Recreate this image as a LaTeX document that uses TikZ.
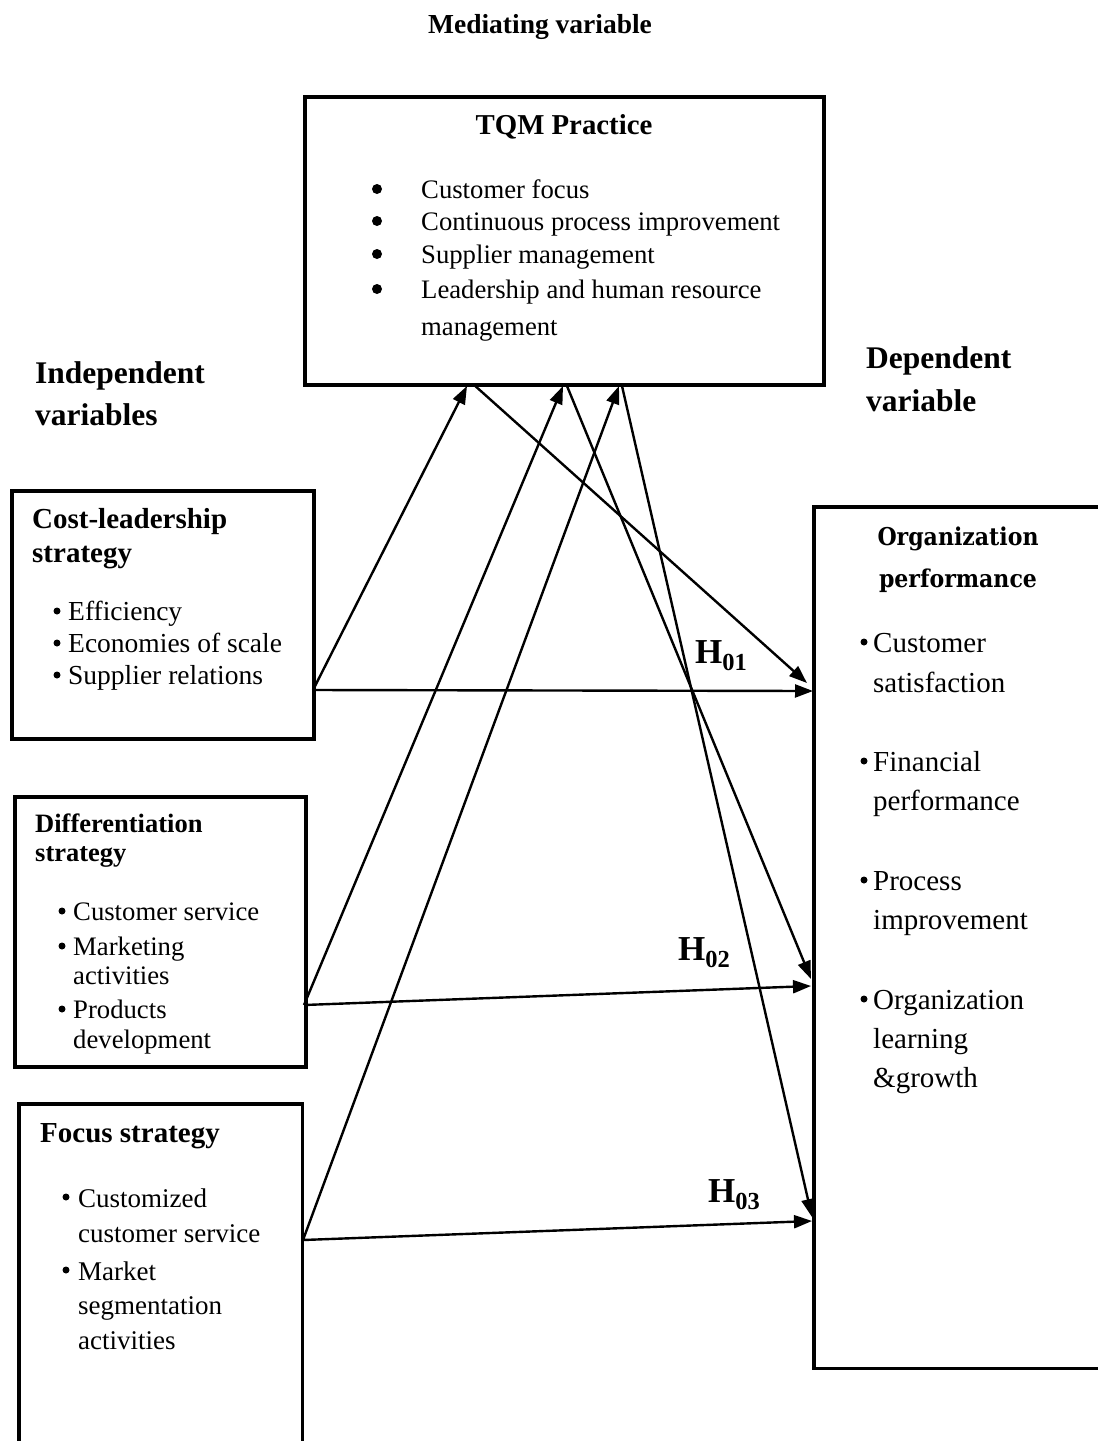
\documentclass[tikz,border=0pt]{standalone}
\usepackage{fontspec}
\setmainfont{Liberation Serif}
\newfontfamily\orgfont{DejaVu Serif Condensed}
\usetikzlibrary{arrows.meta}
\newcommand\fsz[1]{\fontsize{#1}{#1}\selectfont}
\begin{document}
\begin{tikzpicture}[x=1pt,y=-1pt,
  box/.style={draw, line width=3.5pt, inner sep=0pt},
  frame/.style={inner sep=0pt},
  boxline/.style={line width=3.5pt},
  conn/.style={line width=2.4pt, -{Triangle[length=18pt,width=13pt]}},
  lbl/.style={anchor=base west, inner sep=0pt},
  clbl/.style={anchor=base, inner sep=0pt},
  dot/.style={circle, fill, inner sep=0pt, minimum size=#1},
  dot/.default=7pt,
  hyp/.style={lbl, font=\bfseries\fsz{35}}]
\useasboundingbox (0,0) rectangle (1098,1441);
\clip (0,0) rectangle (1098,1441);

% ---- boxes ----
\node[box, anchor=north west, minimum width=519pt, minimum height=288pt] (tqm) at (303,95) {};
\node[box, anchor=north west, minimum width=302pt, minimum height=248pt] (cost) at (10,489) {};
\node[box, anchor=north west, minimum width=291pt, minimum height=270pt] (diff) at (13,795) {};
\node[frame, anchor=north west, minimum width=283pt, minimum height=370pt] (focus) at (19,1104) {};
\draw[boxline] (focus.south west) -- (focus.north west) -- (focus.north east) -- (focus.south east);
\node[frame, anchor=north west, minimum width=300pt, minimum height=861pt] (org) at (814,507) {};
\draw[boxline] (org.north east) -- (org.north west) -- (org.south west) -- (org.south east);

% ---- headings outside the boxes ----
\node[clbl, font=\bfseries\fsz{27.5}] (med) at (540,33) {Mediating variable};
\node[lbl, font=\bfseries\fsz{31.5}] (ind1) at (35,383) {Independent};
\node[lbl, font=\bfseries\fsz{31.5}] (ind2) at (35,425) {variables};
\node[lbl, font=\bfseries\fsz{31.5}] (dep1) at (866,368) {Dependent};
\node[lbl, font=\bfseries\fsz{31.5}] (dep2) at (866,411) {variable};

% ---- TQM practice ----
\node[clbl, font=\bfseries\fsz{28.8}] (tqmt) at (564,134) {TQM Practice};
\foreach \y/\t [count=\i] in {198/Customer focus, 230/Continuous process improvement, 263/Supplier management, 298/Leadership and human resource}{
  \node[dot=10pt] (tqmb\i) at (377,\y-9) {};
  \node[lbl, font=\fsz{26.7}] (tqmi\i) at (421,\y) {\t};
}
\node[lbl, font=\fsz{26.7}] (tqmi5) at (421,335) {management};

% ---- cost leadership ----
\node[lbl, font=\bfseries\fsz{29}] (costt1) at (32,528) {Cost-leadership};
\node[lbl, font=\bfseries\fsz{29}] (costt2) at (32,562) {strategy};
\foreach \y/\t [count=\i] in {620/Efficiency, 652/Economies of scale, 684/Supplier relations}{
  \node[dot] (costb\i) at (57,\y-9) {};
  \node[lbl, font=\fsz{27.5}] (costi\i) at (68,\y) {\t};
}

% ---- differentiation ----
\node[lbl, font=\bfseries\fsz{26.5}] (difft1) at (35,832) {Differentiation};
\node[lbl, font=\bfseries\fsz{26.5}] (difft2) at (35,861) {strategy};
\foreach \y [count=\i] in {920,955,1018}{
  \node[dot] (diffb\i) at (62,\y-9) {};
}
\node[lbl, font=\fsz{26.7}] (diffi1) at (73,920) {Customer service};
\node[lbl, font=\fsz{26.7}] (diffi2) at (73,955) {Marketing};
\node[lbl, font=\fsz{26.7}] (diffi3) at (73,984) {activities};
\node[lbl, font=\fsz{26.7}] (diffi4) at (73,1018) {Products};
\node[lbl, font=\fsz{26.7}] (diffi5) at (73,1048) {development};

% ---- focus ----
\node[lbl, font=\bfseries\fsz{29}] (foct) at (40,1142) {Focus strategy};
\foreach \y [count=\i] in {1207,1280}{
  \node[dot] (focb\i) at (66,\y-10) {};
}
\node[lbl, font=\fsz{27}] (foci1) at (78,1207) {Customized};
\node[lbl, font=\fsz{27}] (foci2) at (78,1242) {customer service};
\node[lbl, font=\fsz{27}] (foci3) at (78,1280) {Market};
\node[lbl, font=\fsz{27}] (foci4) at (78,1314) {segmentation};
\node[lbl, font=\fsz{27}] (foci5) at (78,1349) {activities};

% ---- organization performance ----
\node[clbl, font=\orgfont\bfseries\fsz{24.5}] (orgt1) at (958,545) {Organization};
\node[clbl, font=\orgfont\bfseries\fsz{24.5}] (orgt2) at (958,587) {performance};
\foreach \y [count=\i] in {652,771,890,1009}{
  \node[dot] (orgb\i) at (864,\y-10) {};
}
\foreach \y/\t [count=\i] in {652/Customer, 692/satisfaction, 771/Financial, 810/performance, 890/Process, 929/improvement, 1009/Organization, 1048/learning, 1087/\&growth}{
  \node[lbl, font=\fsz{29}] (orgi\i) at (873,\y) {\t};
}

% ---- hypothesis labels ----
\node[hyp] (h1) at (695,663) {H\textsubscript{01}};
\node[hyp] (h2) at (678,960) {H\textsubscript{02}};
\node[hyp] (h3) at (708,1202) {H\textsubscript{03}};

% ---- connector ends ----
\coordinate (cS) at (313,690);
\coordinate (dS) at (304,1005);
\coordinate (fS) at (303,1240);
\coordinate (t1) at (467,386);
\coordinate (t2) at (563,386);
\coordinate (t3) at (619,386);
\coordinate (q1) at (473,384);
\coordinate (q2) at (567,386);
\coordinate (q3) at (622,386);
\coordinate (o1) at (807,683);
\coordinate (oc) at (813,691);
\coordinate (o2) at (811,979);
\coordinate (od) at (811,986);
\coordinate (o3) at (812,1217);
\coordinate (of) at (812,1221);

% ---- connectors ----
\draw[conn] (cS) -- (t1);
\draw[conn] (q1) -- (o1);
\draw[conn] (cS) -- (oc);
\draw[conn] (dS) -- (t2);
\draw[conn] (dS) -- (od);
\draw[conn] (q2) -- (o2);
\draw[conn] (fS) -- (t3);
\draw[conn] (fS) -- (of);
\draw[conn] (q3) -- (o3);
\end{tikzpicture}
\end{document}
